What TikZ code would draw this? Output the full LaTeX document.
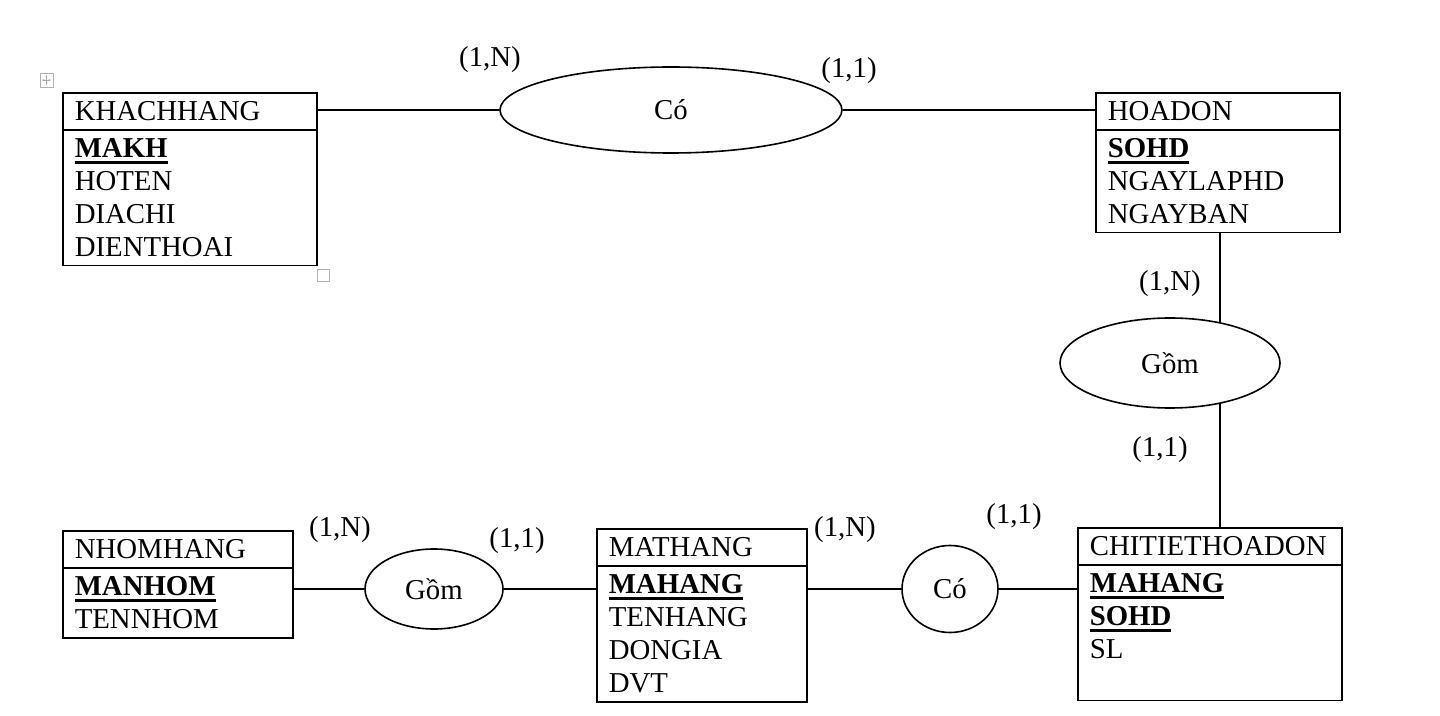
\documentclass[tikz,border=0pt]{standalone}
\usepackage{fontspec}
\setmainfont{Liberation Serif}
\usetikzlibrary{shapes.geometric,shapes.multipart,arrows.meta}
\newsavebox\keybox
\newcommand\pkey[1]{\leavevmode\sbox\keybox{\bfseries #1}\rlap{\rule[-3pt]{\wd\keybox}{1.5pt}}\usebox\keybox}

\begin{document}
\begin{tikzpicture}[x=0.5pt,y=-0.5pt,
  font=\fontsize{14.4}{16.5}\selectfont,
  entity/.style={draw,line width=0.8pt,rectangle split,rectangle split parts=2,
    text width=#1,align=left,inner xsep=6pt,inner ysep=4pt,anchor=north west},
  relation/.style={draw,ellipse,line width=0.8pt,fill=white,inner sep=0pt},
  card/.style={inner sep=0pt},
  link/.style={line width=0.7pt}]
\useasboundingbox (0,0) rectangle (1440,716);

% entities
\node[entity=115pt] (kh) at (62,92) {KHACHHANG\nodepart{two}\pkey{MAKH}\\HOTEN\\DIACHI\\DIENTHOAI};
\node[entity=110pt] (hd) at (1095,92) {HOADON\nodepart{two}\pkey{SOHD}\\NGAYLAPHD\\NGAYBAN};
\node[entity=103pt] (nh) at (62,530) {NHOMHANG\nodepart{two}\pkey{MANHOM}\\TENNHOM};
\node[entity=93pt] (mh) at (596,528) {MATHANG\nodepart{two}\pkey{MAHANG}\\TENHANG\\DONGIA\\DVT};
\node[entity=120pt] (ctd) at (1077,527) {CHITIETHOADON\nodepart{two}\pkey{MAHANG}\\\pkey{SOHD}\\SL\\\mbox{}};

% hoadon -- chitiet (behind the ellipse)
\path (hd.south west) ++(125,0) coordinate (hdb);
\draw[link] (hdb) -- (hdb |- ctd.north);

% relationships
\node[relation,minimum width=171pt,minimum height=43pt] (coT) at (671,110) {Có};
\node[relation,minimum width=110pt,minimum height=45pt] (gomR) at (1170,363) {Gồm};
\node[relation,minimum width=69pt,minimum height=40pt] (gomB) at (434,589) {Gồm};
\node[relation,minimum width=48pt,minimum height=43.5pt] (coB) at (950,589) {Có};

\draw[link] (coT.west) -- (coT.west -| kh.east);
\draw[link] (coT.east) -- (coT.east -| hd.west);
\draw[link] (gomB.west) -- (gomB.west -| nh.east);
\draw[link] (gomB.east) -- (gomB.east -| mh.west);
\draw[link] (coB.west) -- (coB.west -| mh.east);
\draw[link] (coB.east) -- (coB.east -| ctd.west);

% cardinalities
\node[card] (c1) at (490,60) {(1,N)};
\node[card] (c2) at (849,71) {(1,1)};
\node[card] (c3) at (1170,284) {(1,N)};
\node[card] (c4) at (1160,450) {(1,1)};
\node[card] (c5) at (340,530) {(1,N)};
\node[card] (c6) at (517,541) {(1,1)};
\node[card] (c7) at (845,530) {(1,N)};
\node[card] (c8) at (1014,517) {(1,1)};

% editor handles
\draw[gray!60] (40,73) rectangle (53,87);
\draw[gray!70,line width=0.4pt,{Stealth[length=1.2pt]}-{Stealth[length=1.2pt]}] (42,80) -- (51,80);
\draw[gray!70,line width=0.4pt,{Stealth[length=1.2pt]}-{Stealth[length=1.2pt]}] (46.5,75) -- (46.5,85);
\draw[gray!60] (317,269) rectangle (329,281);
\end{tikzpicture}
\end{document}
